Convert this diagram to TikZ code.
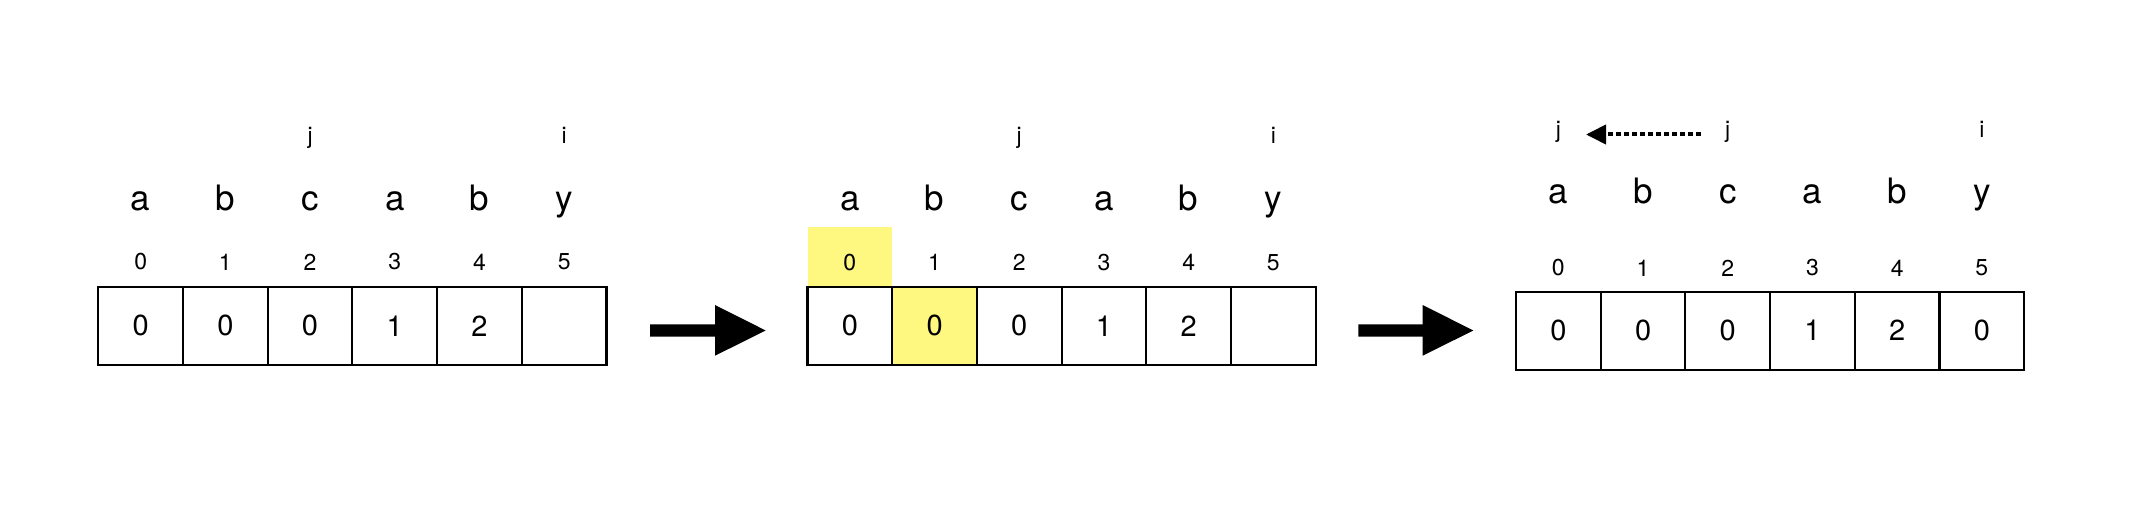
\documentclass[tikz,border=0pt]{standalone}
\usepackage{fontspec}
\setmainfont{TeX Gyre Heros}
\usetikzlibrary{arrows.meta}
\definecolor{hl}{HTML}{FFF880}
\begin{document}
\begin{tikzpicture}[x=1pt,y=-1pt,
  cell/.style={draw, line width=2.1pt, minimum width=84.7pt, minimum height=78pt, inner sep=0pt, font=\fontsize{29}{32}\selectfont},
  idx/.style={inner sep=0pt, font=\fontsize{23}{26}\selectfont},
  chr/.style={inner sep=0pt, anchor=base, font=\fontsize{35}{40}\selectfont},
  ptr/.style={inner sep=0pt, anchor=base, font=\fontsize{23}{26}\selectfont},
  bigarrow/.style={fill=black},
  dotarrow/.style={line width=4pt, dash pattern=on 4.5pt off 3.5pt, -{Triangle[length=20pt,width=19pt]}}
  ]
\useasboundingbox (0,0) rectangle (2130,532);

% ---------- Panel 1 ----------
\foreach \v [count=\k from 0] in {0,0,0,1,2,{}}
  \node[cell] (a\k) at ({98.3+84.7*(\k+0.5)},325.85) {\v};
\foreach \c [count=\k from 0] in {a,b,c,a,b,y}
  \node[chr] (al\k) at ({98.3+84.7*(\k+0.5)},210) {\c};
\foreach \k in {0,...,5}
  \node[idx] (ai\k) at ({98.3+84.7*(\k+0.5)},262) {\k};
\node[ptr] (aj) at ({98.3+84.7*2.5},143.5) {j};
\node[ptr] (ai) at ({98.3+84.7*5.5},143.5) {i};

% arrow 1
\fill[bigarrow] (650,324.3) -- (715,324.3) -- (715,305) -- (765.7,330.5) -- (715,355.7) -- (715,336.7) -- (650,336.7) -- cycle;

% ---------- Panel 2 ----------
\fill[hl] (807.5,227) rectangle (892.2,286.7);
\fill[hl] (892.2,286.7) rectangle (976.9,365);
\foreach \v [count=\k from 0] in {0,0,0,1,2,{}}
  \node[cell] (b\k) at ({807.5+84.7*(\k+0.5)},325.85) {\v};
\foreach \c [count=\k from 0] in {a,b,c,a,b,y}
  \node[chr] (bl\k) at ({807.5+84.7*(\k+0.5)},210) {\c};
\foreach \k in {0,...,5}
  \node[idx] (bi\k) at ({807.5+84.7*(\k+0.5)},262.5) {\k};
\node[ptr] (bj) at ({807.5+84.7*2.5},143.5) {j};
\node[ptr] (bi) at ({807.5+84.7*5.5},143.5) {i};

% arrow 2
\fill[bigarrow] (1358.3,324.3) -- (1422.7,324.3) -- (1422.7,305) -- (1473.3,330.5) -- (1422.7,355.7) -- (1422.7,336.7) -- (1358.3,336.7) -- cycle;

% ---------- Panel 3 ----------
\foreach \v [count=\k from 0] in {0,0,0,1,2,0}
  \node[cell] (c\k) at ({1516+84.7*(\k+0.5)},330.6) {\v};
\foreach \c [count=\k from 0] in {a,b,c,a,b,y}
  \node[chr] (cl\k) at ({1516+84.7*(\k+0.5)},203.3) {\c};
\foreach \k in {0,...,5}
  \node[idx] (ci\k) at ({1516+84.7*(\k+0.5)},268) {\k};
\node[ptr] (cj0) at ({1516+84.7*0.5},138) {j};
\node[ptr] (cj2) at ({1516+84.7*2.5},138) {j};
\node[ptr] (ci) at ({1516+84.7*5.5},138) {i};
\coordinate (ds) at (1700.7,134.5);
\coordinate (de) at (1586,134.5);
\draw[dotarrow] (ds) -- (de);
\end{tikzpicture}
\end{document}
